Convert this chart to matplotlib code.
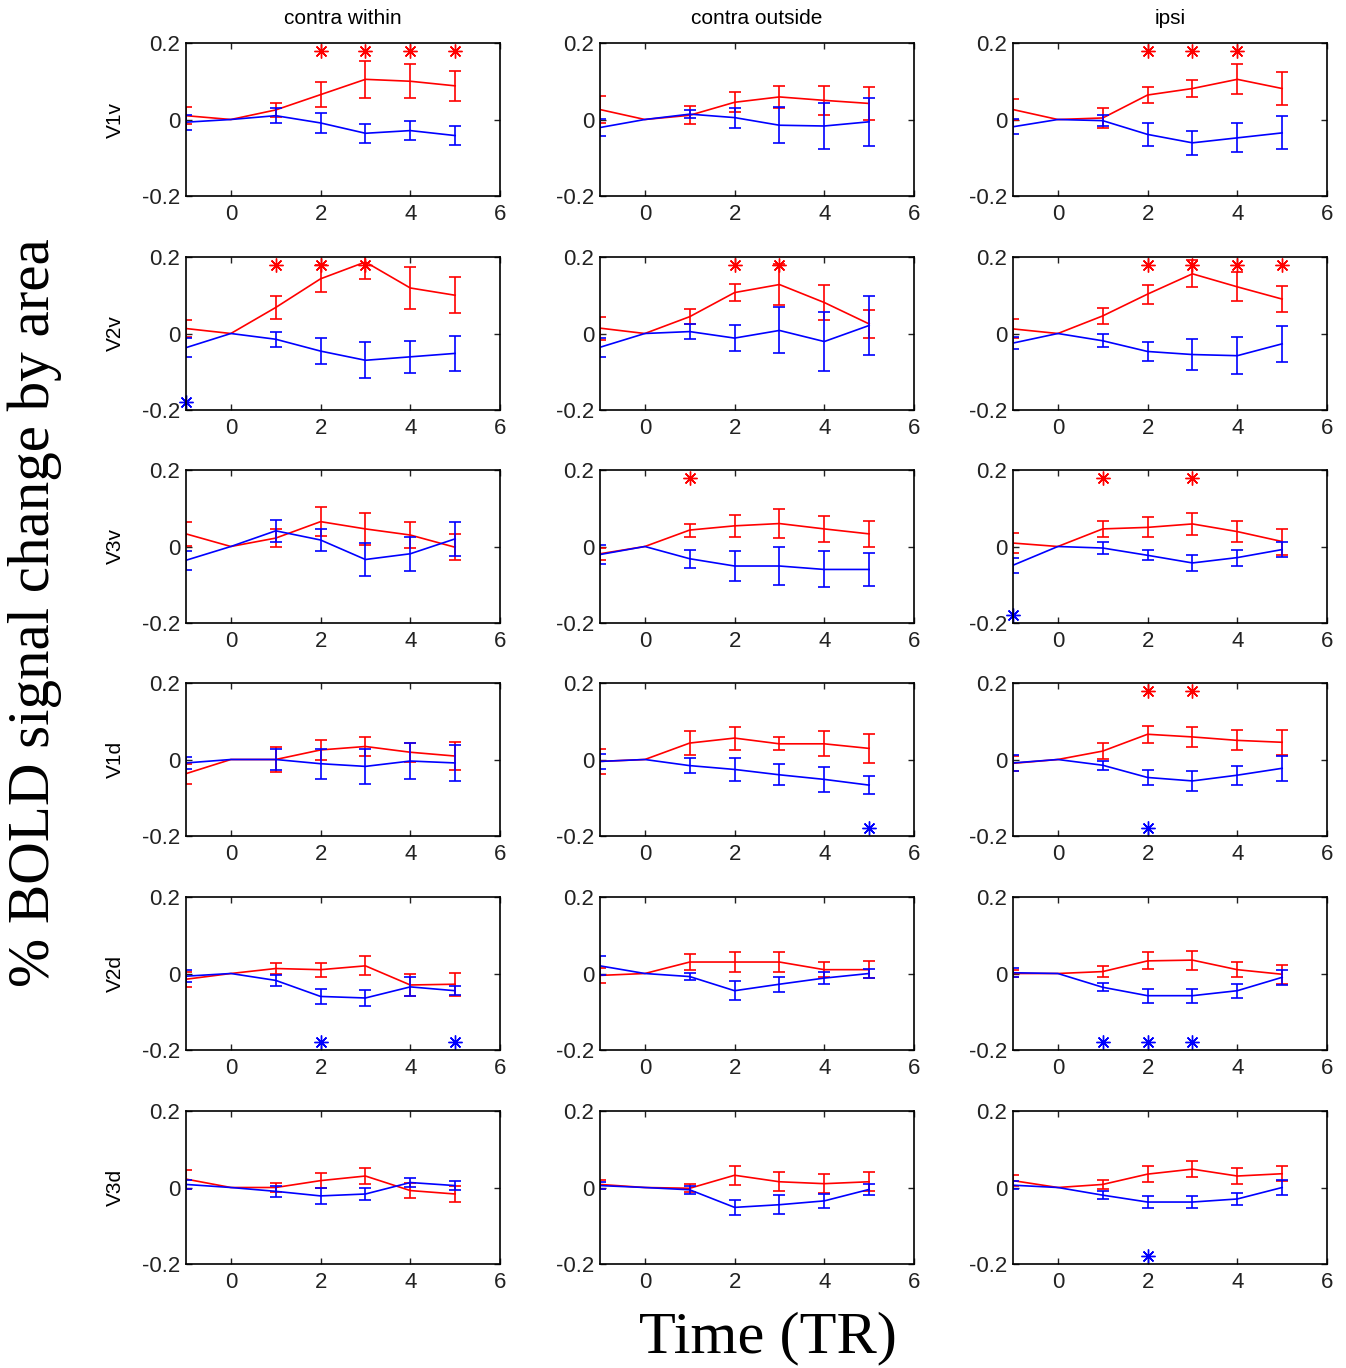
import numpy as np
import matplotlib
matplotlib.use('Agg')
import matplotlib.pyplot as plt

plt.rcParams['font.family'] = ['Liberation Sans', 'DejaVu Sans']

###########################################################
# data: mean % signal change and error per time point
# columns = contra within / contra outside / ipsi
###########################################################
times = [-1, 0, 1, 2, 3, 4, 5]
conditions = ['contra within', 'contra outside', 'ipsi']
areas = ['V1v', 'V2v', 'V3v', 'V1d', 'V2d', 'V3d']

V1v_red = [[0.010, 0, 0.025, 0.065, 0.105, 0.100, 0.088],
           [0.026, 0, 0.011, 0.045, 0.059, 0.050, 0.042],
           [0.026, 0, 0.004, 0.064, 0.081, 0.105, 0.081]]
V1v_red_err = [[0.022, 0, 0.019, 0.033, 0.048, 0.045, 0.039],
               [0.036, 0, 0.024, 0.026, 0.028, 0.038, 0.042],
               [0.027, 0, 0.025, 0.020, 0.021, 0.039, 0.043]]
V1v_blue = [[-0.007, 0, 0.010, -0.009, -0.036, -0.029, -0.042],
            [-0.021, 0, 0.014, 0.005, -0.015, -0.017, -0.006],
            [-0.019, 0, -0.003, -0.039, -0.061, -0.048, -0.035]]
V1v_blue_err = [[0.020, 0, 0.020, 0.025, 0.025, 0.025, 0.025],
                [0.022, 0, 0.010, 0.026, 0.047, 0.060, 0.062],
                [0.020, 0, 0.015, 0.029, 0.031, 0.038, 0.043]]

V2v_red = [[0.013, 0, 0.068, 0.143, 0.187, 0.119, 0.100],
           [0.014, 0, 0.044, 0.107, 0.128, 0.081, 0.025],
           [0.012, 0, 0.046, 0.103, 0.156, 0.122, 0.090]]
V2v_red_err = [[0.023, 0, 0.030, 0.035, 0.045, 0.054, 0.047],
               [0.030, 0, 0.020, 0.023, 0.053, 0.047, 0.037],
               [0.025, 0, 0.021, 0.025, 0.035, 0.038, 0.033]]
V2v_blue = [[-0.037, 0, -0.015, -0.046, -0.070, -0.061, -0.052],
            [-0.036, 0, 0.005, -0.012, 0.008, -0.021, 0.021],
            [-0.025, 0, -0.019, -0.047, -0.055, -0.058, -0.027]]
V2v_blue_err = [[0.025, 0, 0.020, 0.033, 0.047, 0.041, 0.046],
                [0.025, 0, 0.020, 0.034, 0.060, 0.078, 0.077],
                [0.016, 0, 0.017, 0.024, 0.040, 0.048, 0.047]]

V3v_red = [[0.033, 0, 0.022, 0.065, 0.046, 0.030, -0.002],
           [-0.019, 0, 0.043, 0.054, 0.060, 0.046, 0.033],
           [0.009, 0, 0.046, 0.050, 0.059, 0.039, 0.013]]
V3v_red_err = [[0.032, 0, 0.023, 0.037, 0.041, 0.035, 0.034],
               [0.016, 0, 0.017, 0.028, 0.037, 0.034, 0.034],
               [0.026, 0, 0.020, 0.026, 0.028, 0.028, 0.034]]
V3v_blue = [[-0.036, 0, 0.041, 0.017, -0.034, -0.019, 0.020],
            [-0.021, 0, -0.032, -0.051, -0.051, -0.060, -0.060],
            [-0.049, 0, -0.004, -0.023, -0.043, -0.029, -0.008]]
V3v_blue_err = [[0.025, 0, 0.029, 0.028, 0.043, 0.045, 0.045],
                [0.025, 0, 0.023, 0.040, 0.049, 0.047, 0.044],
                [0.020, 0, 0.015, 0.013, 0.020, 0.021, 0.019]]

V1d_red = [[-0.037, 0, 0.000, 0.025, 0.034, 0.019, 0.009],
           [-0.005, 0, 0.043, 0.056, 0.041, 0.041, 0.029],
           [-0.010, 0, 0.022, 0.066, 0.059, 0.050, 0.045]]
V1d_red_err = [[0.026, 0, 0.032, 0.026, 0.024, 0.025, 0.036],
               [0.032, 0, 0.031, 0.030, 0.017, 0.033, 0.038],
               [0.020, 0, 0.020, 0.022, 0.026, 0.026, 0.032]]
V1d_blue = [[-0.009, 0, 0.000, -0.011, -0.018, -0.004, -0.009],
            [-0.005, 0, -0.016, -0.026, -0.040, -0.052, -0.067],
            [-0.009, 0, -0.015, -0.047, -0.056, -0.041, -0.023]]
V1d_blue_err = [[0.016, 0, 0.027, 0.039, 0.045, 0.047, 0.047],
                [0.020, 0, 0.020, 0.030, 0.027, 0.032, 0.023],
                [0.020, 0, 0.012, 0.019, 0.027, 0.025, 0.032]]

V2d_red = [[-0.015, 0, 0.013, 0.010, 0.020, -0.030, -0.028],
           [-0.005, 0, 0.030, 0.030, 0.030, 0.010, 0.010],
           [0.000, 0, 0.005, 0.033, 0.035, 0.010, -0.002]]
V2d_red_err = [[0.020, 0, 0.015, 0.018, 0.025, 0.030, 0.030],
               [0.020, 0, 0.020, 0.025, 0.025, 0.020, 0.022],
               [0.010, 0, 0.015, 0.022, 0.025, 0.020, 0.025]]
V2d_blue = [[-0.007, 0, -0.018, -0.060, -0.064, -0.035, -0.045],
            [0.020, 0, -0.008, -0.045, -0.028, -0.012, 0.000],
            [0.002, 0, -0.036, -0.058, -0.058, -0.045, -0.010]]
V2d_blue_err = [[0.015, 0, 0.015, 0.020, 0.022, 0.025, 0.012],
                [0.025, 0, 0.010, 0.025, 0.020, 0.015, 0.012],
                [0.012, 0, 0.010, 0.018, 0.018, 0.018, 0.020]]

V3d_red = [[0.022, 0, 0.000, 0.018, 0.030, -0.008, -0.017],
           [0.008, 0, -0.002, 0.032, 0.015, 0.010, 0.015],
           [0.018, 0, 0.008, 0.035, 0.048, 0.030, 0.036]]
V3d_red_err = [[0.025, 0, 0.012, 0.020, 0.020, 0.020, 0.020],
               [0.012, 0, 0.010, 0.025, 0.025, 0.025, 0.025],
               [0.015, 0, 0.012, 0.020, 0.020, 0.020, 0.020]]
V3d_blue = [[0.008, 0, -0.010, -0.022, -0.017, 0.013, 0.005],
            [0.005, 0, -0.006, -0.052, -0.045, -0.035, -0.005],
            [0.006, 0, -0.020, -0.038, -0.038, -0.030, 0.000]]
V3d_blue_err = [[0.012, 0, 0.015, 0.020, 0.015, 0.012, 0.012],
                [0.010, 0, 0.010, 0.020, 0.025, 0.018, 0.015],
                [0.010, 0, 0.010, 0.015, 0.015, 0.015, 0.020]]

# significance markers (time points), one list per panel
red_stars = [[[2, 3, 4, 5], [], [2, 3, 4]],
             [[1, 2, 3], [2, 3], [2, 3, 4, 5]],
             [[], [1], [1, 3]],
             [[], [], [2, 3]],
             [[], [], []],
             [[], [], []]]
blue_stars = [[[], [], []],
              [[-1], [], []],
              [[], [], [-1]],
              [[], [5], [2]],
              [[2, 5], [], [1, 2, 3]],
              [[], [], [2]]]
star_level = 0.18

red_means = [V1v_red, V2v_red, V3v_red, V1d_red, V2d_red, V3d_red]
red_errs = [V1v_red_err, V2v_red_err, V3v_red_err, V1d_red_err, V2d_red_err, V3d_red_err]
blue_means = [V1v_blue, V2v_blue, V3v_blue, V1d_blue, V2d_blue, V3d_blue]
blue_errs = [V1v_blue_err, V2v_blue_err, V3v_blue_err, V1d_blue_err, V2d_blue_err, V3d_blue_err]

###########################################################

W, H = 1346, 1368
fig = plt.figure(figsize=(W/100., H/100.), dpi=100)

col_left = [186, 600, 1013]
row_top = [43, 257, 470, 683, 897, 1111]
ax_w, ax_h = 314, 153

x = np.array(times)
has_err = x != 0
asterisk = (8, 2, 0)

def draw_series(ax, mean, err, color):
	mean = np.array(mean)
	err = np.array(err)
	ax.plot(x, mean, color=color, lw=1.2)
	ax.errorbar(x[has_err], mean[has_err], yerr=err[has_err], fmt='none',
				ecolor=color, elinewidth=1.2, capsize=4.5, capthick=1.2)

for r in range(len(areas)):
	for c in range(len(conditions)):
		ax = fig.add_axes([col_left[c]/W, 1-(row_top[r]+ax_h)/H, ax_w/W, ax_h/H])
		draw_series(ax, red_means[r][c], red_errs[r][c], '#ff0000')
		draw_series(ax, blue_means[r][c], blue_errs[r][c], '#0000ff')
		for s in red_stars[r][c]:
			ax.plot(s, star_level, marker=asterisk, ms=10, mew=1.0, color='#ff0000')
		for s in blue_stars[r][c]:
			ax.plot(s, -star_level, marker=asterisk, ms=10, mew=1.0, color='#0000ff',
					clip_on=False)

		ax.set_xlim(-1, 6)
		ax.set_ylim(-0.2, 0.2)
		ax.set_xticks([0, 2, 4, 6])
		ax.set_xticklabels(['0', '2', '4', '6'])
		ax.set_yticks([-0.2, 0, 0.2])
		ax.set_yticklabels(['-0.2', '0', '0.2'])
		ax.tick_params(axis='both', direction='in', top=True, right=True,
					   length=4, width=1, labelsize=16, colors='#222222')
		ax.tick_params(axis='x', pad=6)
		ax.tick_params(axis='y', pad=4)
		for sp in ax.spines.values():
			sp.set_linewidth(1.2)

	fig.text(115/W, 1-(row_top[r]+ax_h/2.)/H, areas[r], rotation=90,
			 ha='center', va='center', fontsize=15)

for c in range(len(conditions)):
	fig.text((col_left[c]+ax_w/2.)/W, 1-18/H, conditions[c],
			 ha='center', va='center', fontsize=15)

fig.text(35/W, 1-613/H, '% BOLD signal change by area', rotation=90,
		 ha='center', va='center', fontsize=42.5, family='Liberation Serif')
fig.text(768/W, 1-1338/H, 'Time (TR)', ha='center', va='center',
		 fontsize=43.5, family='Liberation Serif')

plt.savefig('out.png', dpi=100)
